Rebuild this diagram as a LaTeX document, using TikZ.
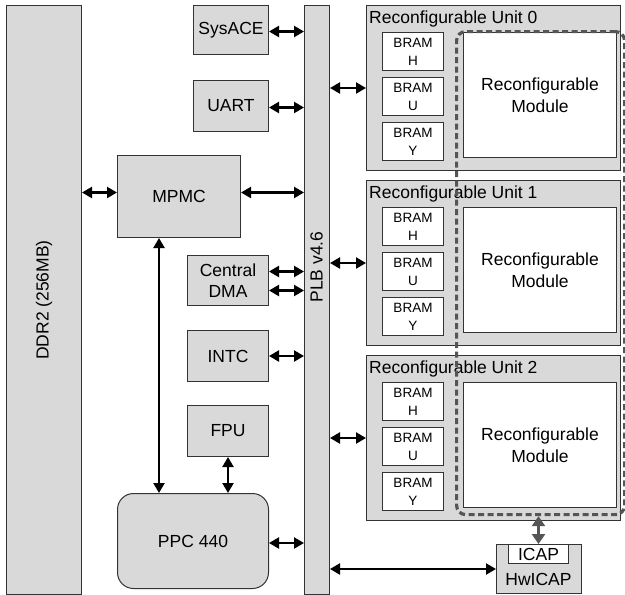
\documentclass[tikz,border=0pt]{standalone}
\usepackage{fontspec}
\setmainfont{Liberation Sans}
\usetikzlibrary{arrows.meta, positioning, calc}
\definecolor{blockfill}{HTML}{D9D9D9}
\definecolor{blockline}{HTML}{333333}
\definecolor{rmline}{HTML}{555555}

\begin{document}
\begin{tikzpicture}[x=1pt, y=-1pt,
  block/.style={draw=blockline, fill=blockfill, line width=1pt, inner sep=0pt,
    anchor=north west, align=center, font=\fontsize{17.5}{21.5}\selectfont},
  bram/.style={block, fill=white, minimum width=61pt, minimum height=38pt,
    font=\fontsize{13.5}{18}\selectfont},
  unit/.style={block, minimum width=254pt, minimum height=165pt},
  module/.style={block, fill=white, minimum width=153pt, minimum height=125pt},
  title/.style={anchor=north west, inner sep=0pt, font=\fontsize{17.5}{21.5}\selectfont},
  link/.style={{Triangle[length=10pt,width=11pt]}-{Triangle[length=10pt,width=11pt]},
    line width=2.2pt},
  cfg/.style={{Triangle[length=10pt,width=13pt]}-{Triangle[length=10pt,width=13pt]},
    draw=rmline, line width=3pt}
]
\useasboundingbox (0,0) rectangle (625,595);

% memory and bus
\node[block, minimum width=75pt, minimum height=589pt] (ddr) at (6,5) {};
\node[title, anchor=center, rotate=90] (ddrname) at (ddr.center) {DDR2 (256MB)};
\node[block, minimum width=25pt, minimum height=589pt] (plb) at (304,5) {};
\node[title, anchor=center, rotate=90] (plbname) at (316.5,267) {PLB v4.6};

% processor side
\node[block, minimum width=75pt, minimum height=49pt] (sysace) at (193,5) {SysACE};
\node[block, minimum width=75pt, minimum height=51pt] (uart) at (193,80) {UART};
\node[block, minimum width=123pt, minimum height=82pt] (mpmc) at (117,155) {MPMC};
\node[block, minimum width=81pt, minimum height=50pt] (dma) at (187,255) {Central\\DMA};
\node[block, minimum width=81pt, minimum height=51pt] (intc) at (187,330) {INTC};
\node[block, minimum width=81pt, minimum height=51pt] (fpu) at (187,405) {FPU};
\node[block, rounded corners=16pt, minimum width=151pt, minimum height=95pt]
  (ppc) at (117,493) {PPC 440};

% reconfigurable units
\node[unit] (ru0) at (366,5) {};
\node[title] (ru0name) at ([xshift=3pt,yshift=-6pt]ru0.north west) {Reconfigurable Unit 0};
\node[bram] (bh0) at ([xshift=16pt,yshift=-27pt]ru0.north west) {BRAM\\H};
\node[bram, below=6pt of bh0] (bu0) {BRAM\\U};
\node[bram, below=6pt of bu0] (by0) {BRAM\\Y};
\node[module] (rm0) at ([xshift=97pt,yshift=-27pt]ru0.north west) {Reconfigurable\\Module};

\node[unit] (ru1) at (366,180) {};
\node[title] (ru1name) at ([xshift=3pt,yshift=-6pt]ru1.north west) {Reconfigurable Unit 1};
\node[bram] (bh1) at ([xshift=16pt,yshift=-27pt]ru1.north west) {BRAM\\H};
\node[bram, below=6pt of bh1] (bu1) {BRAM\\U};
\node[bram, below=6pt of bu1] (by1) {BRAM\\Y};
\node[module] (rm1) at ([xshift=97pt,yshift=-27pt]ru1.north west) {Reconfigurable\\Module};

\node[unit] (ru2) at (366,355) {};
\node[title] (ru2name) at ([xshift=3pt,yshift=-6pt]ru2.north west) {Reconfigurable Unit 2};
\node[bram] (bh2) at ([xshift=16pt,yshift=-27pt]ru2.north west) {BRAM\\H};
\node[bram, below=6pt of bh2] (bu2) {BRAM\\U};
\node[bram, below=6pt of bu2] (by2) {BRAM\\Y};
\node[module] (rm2) at ([xshift=97pt,yshift=-27pt]ru2.north west) {Reconfigurable\\Module};

% reconfigurable area
\node[draw=rmline, line width=3.2pt, dash pattern=on 6pt off 3.5pt, rounded corners=9pt,
  minimum width=168pt, minimum height=483pt, anchor=north west, inner sep=0pt]
  (rmarea) at (455,30) {};

% icap controller
\node[block, minimum width=85pt, minimum height=49pt] (hwicap) at (496,544) {};
\node[block, fill=white, minimum width=60pt, minimum height=19pt] (icap) at (508,544) {ICAP};
\node[title, anchor=center] (hwname) at (538.5,579) {HwICAP};

% connections
\draw[link] ([yshift=4pt]mpmc.west) -- ([yshift=4pt]mpmc.west -| ddr.east);
\draw[link] ([yshift=4pt]mpmc.east) -- ([yshift=4pt]mpmc.east -| plb.west);
\draw[link] ([yshift=-1.5pt]sysace.east) -- ([yshift=-1.5pt]sysace.east -| plb.west);
\draw[link] ([yshift=-1.5pt]uart.east) -- ([yshift=-1.5pt]uart.east -| plb.west);
\draw[link] ([yshift=9pt]dma.east) -- ([yshift=9pt]dma.east -| plb.west);
\draw[link] ([yshift=-10pt]dma.east) -- ([yshift=-10pt]dma.east -| plb.west);
\draw[link] (intc.east) -- (intc.east -| plb.west);
\draw[link] ([yshift=-2pt]ppc.east) -- ([yshift=-2pt]ppc.east -| plb.west);
\draw[link] ([xshift=-20pt]mpmc.south) -- ([xshift=-20pt]mpmc.south |- ppc.north);
\draw[link] (fpu.south) -- (fpu.south |- ppc.north);
\draw[link] (ru0.west) -- (ru0.west -| plb.east);
\draw[link] (ru1.west) -- (ru1.west -| plb.east);
\draw[link] (ru2.west) -- (ru2.west -| plb.east);
\draw[link] (hwicap.west) -- (hwicap.west -| plb.east);
\draw[cfg] (icap.north) -- (icap.north |- rmarea.south);
\end{tikzpicture}
\end{document}
